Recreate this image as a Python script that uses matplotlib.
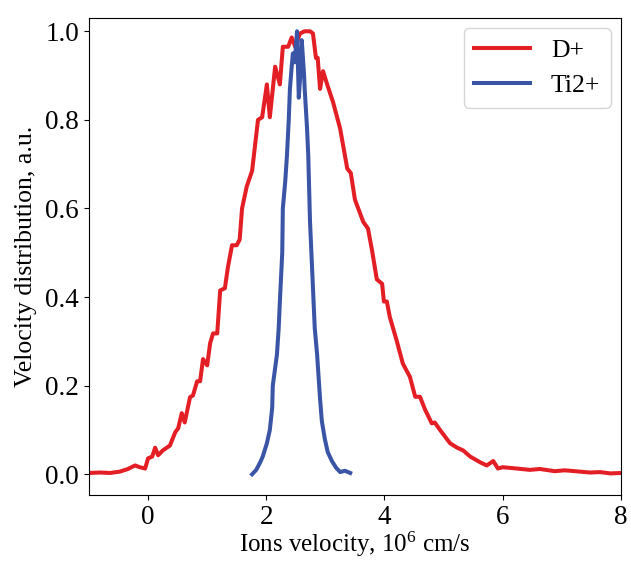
import matplotlib
matplotlib.use("Agg")
import matplotlib.pyplot as plt

plt.rcParams['font.family'] = ['Liberation Serif', 'DejaVu Serif']
plt.rcParams['mathtext.fontset'] = 'custom'
plt.rcParams['mathtext.rm'] = 'Liberation Serif'

# D+ velocity distribution (x in 10^6 cm/s, y in a.u.)
d_x = [-1.0, -0.81, -0.64, -0.48, -0.34, -0.22, -0.14, -0.05, 0.0, 0.07, 0.12, 0.17, 0.25, 0.37,
       0.46, 0.51, 0.57, 0.62, 0.71, 0.76, 0.83, 0.88, 0.93, 1.0, 1.05, 1.10, 1.17, 1.22, 1.30,
       1.35, 1.42, 1.50, 1.55, 1.59, 1.67, 1.76, 1.86, 1.93, 2.01, 2.06, 2.15, 2.23, 2.28, 2.37,
       2.43, 2.49, 2.57, 2.65, 2.74, 2.79, 2.84, 2.87, 2.91, 2.96, 3.03, 3.13, 3.25, 3.37, 3.43,
       3.50, 3.64, 3.72, 3.79, 3.87, 3.96, 3.99, 4.04, 4.09, 4.21, 4.31, 4.43, 4.52, 4.60, 4.69,
       4.80, 4.85, 4.94, 5.11, 5.23, 5.33, 5.45, 5.62, 5.73, 5.84, 5.92, 6.0, 6.24, 6.46, 6.63,
       6.88, 7.05, 7.31, 7.48, 7.65, 7.82, 8.0]
d_y = [0.003, 0.004, 0.003, 0.006, 0.012, 0.02, 0.016, 0.013, 0.036, 0.04, 0.06, 0.043, 0.054, 0.065,
       0.095, 0.104, 0.138, 0.117, 0.174, 0.178, 0.21, 0.21, 0.26, 0.246, 0.296, 0.318, 0.318, 0.415, 0.42,
       0.467, 0.517, 0.517, 0.53, 0.6, 0.65, 0.685, 0.8, 0.806, 0.88, 0.806, 0.92, 0.88, 0.965, 0.965,
       0.986, 0.965, 0.995, 1.0, 1.0, 0.995, 0.94, 0.94, 0.87, 0.91, 0.88, 0.84, 0.78, 0.69, 0.68,
       0.62, 0.57, 0.555, 0.505, 0.44, 0.43, 0.39, 0.39, 0.355, 0.30, 0.25, 0.22, 0.175, 0.175, 0.145,
       0.115, 0.117, 0.10, 0.07, 0.06, 0.054, 0.04, 0.027, 0.02, 0.03, 0.013, 0.016, 0.013, 0.01, 0.012,
       0.007, 0.009, 0.006, 0.004, 0.005, 0.002, 0.003]

# Ti2+ velocity distribution
ti_x = [1.76, 1.83, 1.89, 1.94, 2.01, 2.06, 2.10, 2.11, 2.15, 2.18, 2.21, 2.23, 2.27, 2.28, 2.32,
        2.35, 2.38, 2.40, 2.43, 2.45, 2.48, 2.52, 2.55, 2.59, 2.60, 2.64, 2.65, 2.69, 2.71, 2.74,
        2.77, 2.79, 2.82, 2.86, 2.91, 2.94, 2.99, 3.04, 3.11, 3.18, 3.25, 3.33, 3.42]
ti_y = [0.0, 0.01, 0.025, 0.04, 0.07, 0.10, 0.15, 0.2, 0.24, 0.27, 0.33, 0.39, 0.5, 0.6, 0.66,
        0.72, 0.8, 0.87, 0.92, 0.95, 0.93, 1.0, 0.85, 0.93, 0.98, 0.9, 0.87, 0.78, 0.72, 0.57,
        0.48, 0.42, 0.33, 0.27, 0.17, 0.12, 0.08, 0.05, 0.03, 0.015, 0.005, 0.008, 0.003]

x_ticks = [0, 2, 4, 6, 8]
y_ticks = [0.0, 0.2, 0.4, 0.6, 0.8, 1.0]

fig = plt.figure(figsize=(6.31, 5.62), dpi=100)
ax = fig.add_axes([0.141, 0.119, 0.843, 0.849])

ax.plot(d_x, d_y, color='#e31e24', lw=2.9, label='D+')
ax.plot(ti_x, ti_y, color='#3a55a6', lw=2.9, label='Ti2+')

ax.set_xlim(-1, 8)
ax.set_ylim(-0.047, 1.03)
ax.set_xticks(x_ticks)
ax.set_yticks(y_ticks)
ax.set_yticklabels([f"{v:.1f}" for v in y_ticks])
ax.tick_params(labelsize=19.5)
ax.set_xlabel(r'Ions velocity, $\mathregular{10^6}$ cm/s', fontsize=18, labelpad=0)
ax.set_ylabel('Velocity distribution, a.u.', fontsize=18.5, labelpad=6)
ax.legend(loc='upper right', fontsize=18.5, handlelength=2.2, fancybox=True,
          borderaxespad=0.4)

fig.savefig('out.png', dpi=100)
